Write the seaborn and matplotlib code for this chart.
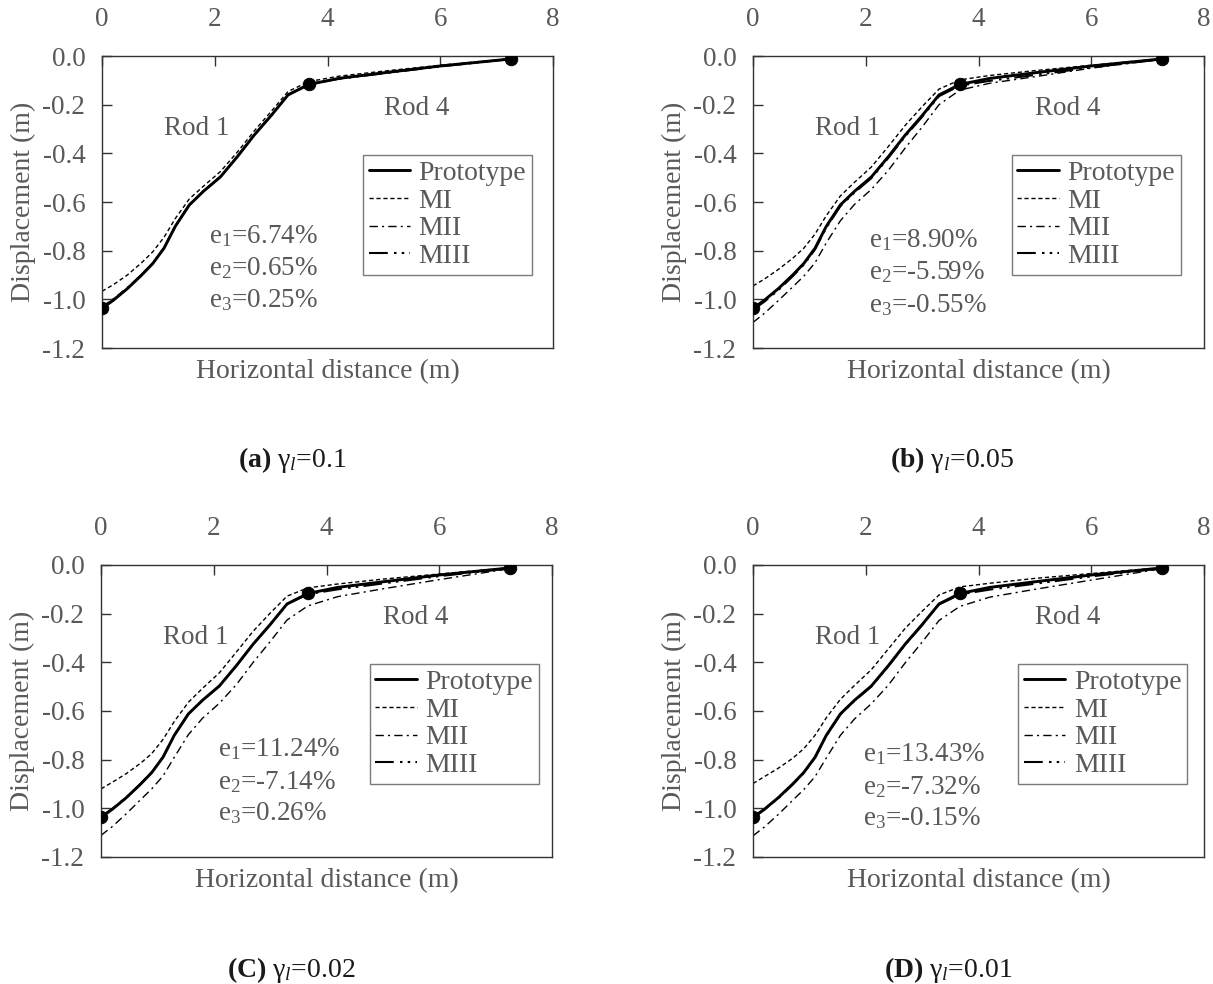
import matplotlib
matplotlib.use("Agg")
import matplotlib.pyplot as plt
import seaborn as sns

# horizontal distance along rods 1 and 4 (m)
x_dist = [0.0, 0.2, 0.45, 0.7, 0.9, 1.1, 1.3, 1.55, 1.8, 2.1, 2.4, 2.7, 3.0, 3.3, 3.67, 4.2, 5.0, 6.0, 7.26]

# prototype displacement (m), same in every panel
proto = [-1.037, -1.004, -0.956, -0.901, -0.853, -0.790, -0.700, -0.612, -0.556, -0.497,
         -0.414, -0.325, -0.245, -0.160, -0.117, -0.092, -0.069, -0.041, -0.012]

# nodes marked with dots
node_x = [0.0, 3.67, 7.26]
node_y = [-1.037, -0.117, -0.012]

# (a) gamma_l = 0.1
mi_a = [-0.967, -0.940, -0.900, -0.850, -0.805, -0.745, -0.668, -0.587, -0.535, -0.475,
        -0.395, -0.308, -0.228, -0.146, -0.105, -0.083, -0.062, -0.038, -0.011]
mii_a = [-1.030, -0.998, -0.952, -0.898, -0.850, -0.787, -0.698, -0.610, -0.554, -0.495,
         -0.412, -0.323, -0.243, -0.158, -0.115, -0.093, -0.070, -0.042, -0.012]
miii_a = [-1.034, -1.002, -0.955, -0.900, -0.852, -0.789, -0.699, -0.611, -0.555, -0.496,
          -0.413, -0.324, -0.244, -0.159, -0.116, -0.094, -0.071, -0.043, -0.012]

# (b) gamma_l = 0.05
mi_b = [-0.945, -0.917, -0.877, -0.832, -0.790, -0.732, -0.656, -0.575, -0.519, -0.456,
        -0.372, -0.285, -0.208, -0.136, -0.098, -0.080, -0.060, -0.038, -0.011]
mii_b = [-1.095, -1.058, -1.005, -0.950, -0.905, -0.850, -0.768, -0.677, -0.610, -0.548,
         -0.470, -0.378, -0.292, -0.200, -0.140, -0.112, -0.085, -0.050, -0.013]
miii_b = [-1.043, -1.010, -0.962, -0.906, -0.858, -0.795, -0.706, -0.617, -0.561, -0.502,
          -0.419, -0.330, -0.250, -0.165, -0.122, -0.102, -0.078, -0.047, -0.013]

# (C) gamma_l = 0.02
mi_c = [-0.920, -0.893, -0.857, -0.815, -0.775, -0.717, -0.643, -0.564, -0.507, -0.443,
        -0.358, -0.272, -0.198, -0.128, -0.094, -0.078, -0.058, -0.037, -0.011]
mii_c = [-1.111, -1.075, -1.022, -0.965, -0.920, -0.867, -0.790, -0.697, -0.630, -0.568,
         -0.492, -0.400, -0.315, -0.226, -0.168, -0.130, -0.098, -0.060, -0.015]
miii_c = [-1.034, -1.002, -0.955, -0.900, -0.852, -0.789, -0.700, -0.612, -0.556, -0.497,
          -0.414, -0.325, -0.245, -0.161, -0.120, -0.100, -0.076, -0.046, -0.013]

# (D) gamma_l = 0.01
mi_d = [-0.898, -0.870, -0.835, -0.795, -0.755, -0.700, -0.628, -0.552, -0.495, -0.430,
        -0.345, -0.260, -0.190, -0.123, -0.090, -0.075, -0.055, -0.035, -0.011]
mii_d = [-1.113, -1.077, -1.025, -0.968, -0.923, -0.870, -0.793, -0.700, -0.633, -0.570,
         -0.494, -0.402, -0.317, -0.228, -0.170, -0.132, -0.100, -0.062, -0.015]
miii_d = [-1.039, -1.006, -0.958, -0.903, -0.855, -0.792, -0.702, -0.614, -0.558, -0.499,
          -0.416, -0.327, -0.247, -0.162, -0.121, -0.101, -0.077, -0.047, -0.013]

captions = [("(a)", "0.1"), ("(b)", "0.05"), ("(C)", "0.02"), ("(D)", "0.01")]
errors = [("6.74%", "0.65%", "0.25%"),
          ("8.90%", "-5.59%", "-0.55%"),
          ("11.24%", "-7.14%", "0.26%"),
          ("13.43%", "-7.32%", "-0.15%")]
models = [(mi_a, mii_a, miii_a), (mi_b, mii_b, miii_b),
          (mi_c, mii_c, miii_c), (mi_d, mii_d, miii_d)]

sns.set_style("white")
plt.rcParams["font.family"] = ["Liberation Serif", "DejaVu Serif"]
plt.rcParams["mathtext.fontset"] = "custom"
plt.rcParams["mathtext.rm"] = "Liberation Serif"
plt.rcParams["mathtext.it"] = "Liberation Serif:italic"
plt.rcParams["mathtext.bf"] = "Liberation Serif:bold"

grey = "#595959"
W, H = 1213, 984
fig = plt.figure(figsize=(W / 100, H / 100), dpi=100)

# axes boxes in pixels: left, top
boxes = [(102, 56), (753, 56), (101, 565), (753, 565)]
legend_x = [0.579, 0.574, 0.596, 0.588]
etext_pos = [(1.90, [-0.770, -0.901, -1.031]),
             (2.06, [-0.786, -0.918, -1.052]),
             (2.07, [-0.786, -0.919, -1.049]),
             (1.96, [-0.805, -0.940, -1.070])]
cap_pos = [(292, 460), (952, 460), (291, 970), (948, 970)]

styles = [("Prototype", "-", 2.1),
          ("MI", (0, (3, 2)), 1.0),
          ("MII", (0, (6, 3, 1.5, 3)), 1.0),
          ("MIII", (0, (9, 3, 1.2, 2.5, 1.2, 2.5)), 1.5)]

for i in range(4):
    left, top = boxes[i]
    ax = fig.add_axes([left / W, 1 - (top + 292) / H, 451 / W, 292 / H])
    series = [proto] + list(models[i])
    for (name, ls, lw), yv in zip(styles, series):
        sns.lineplot(x=x_dist, y=yv, ax=ax, color="black", linestyle=ls,
                     linewidth=lw, label=name)
    sns.scatterplot(x=node_x, y=node_y, ax=ax, color="black", s=80,
                    edgecolor="black", zorder=5, legend=False)

    ax.set_xlim(0, 8)
    ax.set_ylim(-1.2, 0.0)
    ax.set_xticks([0, 2, 4, 6, 8])
    ax.set_yticks([-1.2, -1.0, -0.8, -0.6, -0.4, -0.2, 0.0])
    ax.set_yticklabels(["-1.2", "-1.0", "-0.8", "-0.6", "-0.4", "-0.2", "0.0"])
    ax.xaxis.tick_top()
    ax.tick_params(axis="x", direction="in", top=True, bottom=False, labeltop=True,
                   labelbottom=False, length=7, width=1, pad=17, labelsize=19.5,
                   colors="#333333", labelcolor=grey)
    ax.tick_params(axis="y", direction="in", left=True, right=False, length=7,
                   width=1, pad=12, labelsize=19.5, colors="#333333", labelcolor=grey)
    for sp in ax.spines.values():
        sp.set_color("#333333")
        sp.set_linewidth(1.0)

    ax.set_xlabel("Horizontal distance (m)", fontsize=20, color=grey, labelpad=8)
    ax.xaxis.set_label_position("bottom")
    ax.set_ylabel("Displacement (m)", fontsize=20, color=grey)
    ax.yaxis.set_label_coords(-0.146, 0.5)

    ax.text(1.68, -0.296, "Rod 1", fontsize=19.5, color=grey, ha="center", va="center")
    ax.text(5.59, -0.214, "Rod 4", fontsize=19.5, color=grey, ha="center", va="center")
    ex, eys = etext_pos[i]
    for k, (val, ey) in enumerate(zip(errors[i], eys)):
        ax.text(ex, ey, "e$_{%d}$=%s" % (k + 1, val), fontsize=19.5, color=grey,
                ha="left", va="baseline")

    leg = ax.legend(loc="upper left", bbox_to_anchor=(legend_x[i], 0.661),
                    borderaxespad=0, frameon=True, fancybox=False, fontsize=20,
                    handlelength=1.5, handletextpad=0.3, labelspacing=0.08,
                    borderpad=0.2, labelcolor=grey)
    leg.get_frame().set_edgecolor(grey)
    leg.get_frame().set_linewidth(1.0)

    tag, g = captions[i]
    cx, cy = cap_pos[i]
    fig.text(cx / W, 1 - cy / H, r"$\mathbf{%s}$ γ$_{l}$=%s" % (tag, g),
             fontsize=20, color="#1a1a1a", ha="center", va="center")

fig.savefig("out.png", dpi=100)
